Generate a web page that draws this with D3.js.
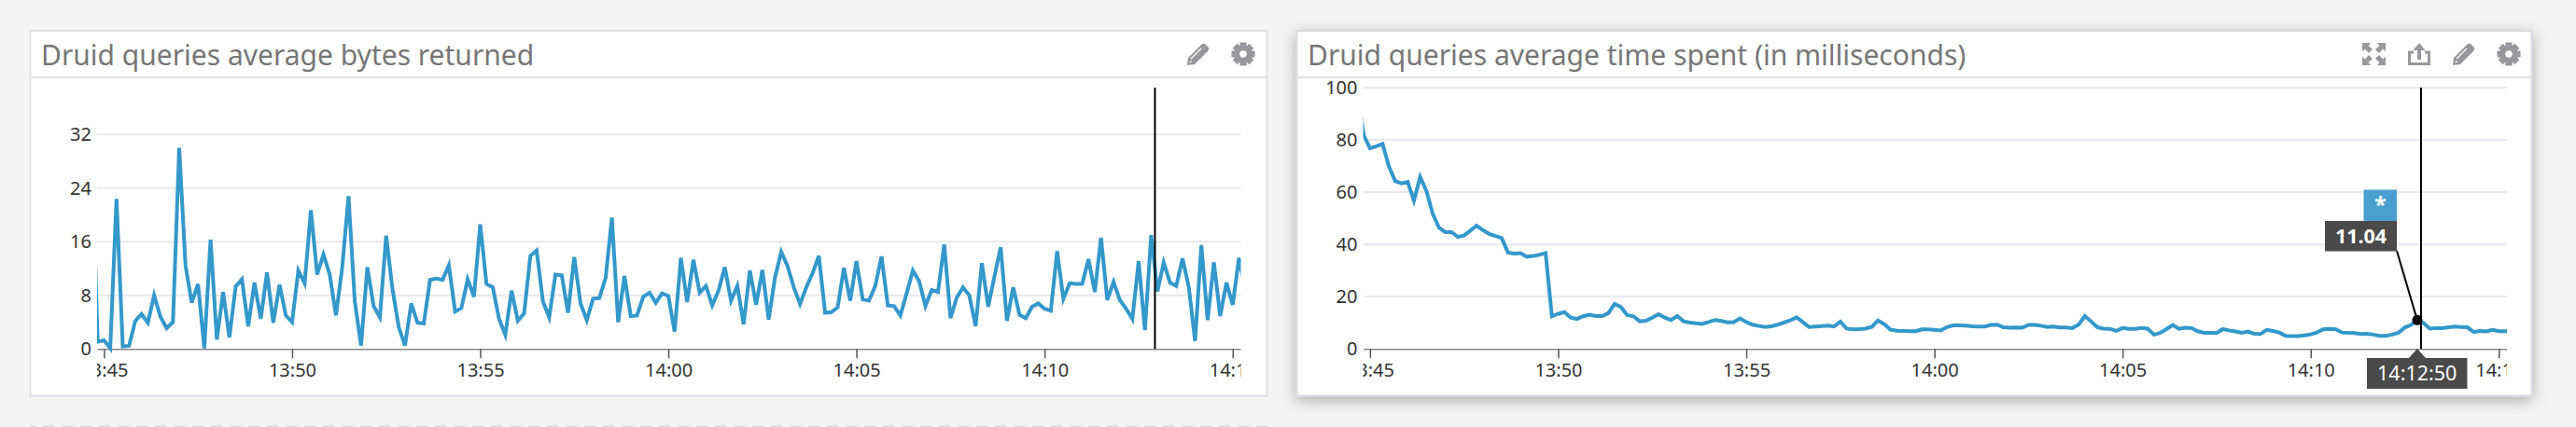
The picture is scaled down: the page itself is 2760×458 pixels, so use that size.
<!DOCTYPE html>
<html>
<head>
<meta charset="utf-8">
<script src="https://cdn.jsdelivr.net/npm/d3@7"></script>
<style>
  html, body { margin: 0; padding: 0; background: #f4f4f5; overflow: hidden; }
  text { font-family: "Noto Sans", sans-serif; }
</style>
</head>
<body>
<div id="chart"></div>
<script>
// one reading every 10 seconds, the first one is just off the left edge
var startTime = new Date(2017, 0, 1, 13, 44, 40);
var hoverTime = new Date(2017, 0, 1, 14, 12, 50);
var crosshairTime = new Date(2017, 0, 1, 14, 12, 56);

var bytesValues = [31, 1.07, 1.3, 0.1, 22.4, 0.37, 0.46, 4.2, 5.2, 3.9, 8.0, 4.8, 3.1, 4.0, 30.0, 12.5, 6.9, 9.7, 0.1, 16.3,
  1.4, 8.5, 1.7, 9.3, 10.4, 3.4, 9.9, 4.5, 11.4, 3.9, 9.6, 5.0, 4.0, 11.7, 9.8, 20.7, 11.1, 14.1, 11.1, 5.0,
  12.2, 22.8, 7.1, 0.5, 12.2, 6.4, 4.7, 16.9, 9.0, 3.3, 0.5, 6.8, 3.9, 3.8, 10.3, 10.5, 10.3, 12.5, 5.6, 6.1,
  10.4, 7.8, 18.6, 9.7, 9.2, 4.5, 2.1, 8.7, 4.2, 5.3, 13.9, 14.7, 7.1, 4.7, 11.1, 11.0, 5.4, 13.7, 6.8, 4.3,
  7.5, 7.6, 10.6, 19.6, 4.0, 10.9, 4.9, 5.0, 7.8, 8.4,
  6.9, 8.3, 7.9, 2.6, 13.6, 7.0, 13.3, 8.4, 9.4, 6.5, 8.7, 12.2, 7.2, 9.4, 3.7, 11.7, 6.6, 11.8, 4.4, 10.6,
  14.5, 12.4, 9.2, 6.7, 9.2, 11.3, 13.9, 5.4, 5.5, 6.2, 12.1, 7.2, 13.1, 7.4, 7.2, 9.4, 13.8, 6.5, 6.4, 5.0,
  8.3, 11.7, 10.1, 6.4, 8.8, 8.5, 15.6, 4.6, 7.7, 9.2, 8.0, 3.4, 12.8, 6.3, 10.8, 15.2, 4.2, 9.2, 5.1, 4.6,
  6.3, 6.8, 6.0, 5.7, 14.6, 7.5, 9.8, 9.7, 9.7, 13.4, 8.5, 16.6, 7.3, 10.0, 7.3, 6.0, 4.5, 13.1, 2.8, 17.0,
  8.6, 12.9, 9.9, 9.4, 13.5, 9.2, 1.2, 15.5, 4.3, 12.9, 4.9, 9.9, 6.6, 13.6, 9.0];

var timeSpentValues = [98, 81.8, 76.8, 77.6, 78.5, 69.9, 64.3, 63.4, 63.9, 56.8, 65.8, 60.4, 51.7, 46.4, 44.7, 44.7, 42.9, 43.4, 45.3, 47.2,
  45.5, 44.0, 43.2, 42.4, 36.9, 36.5, 36.7, 35.3, 35.6, 36.0, 36.7, 12.5, 13.4, 14.1, 12.0, 11.5, 12.5, 13.1, 12.6, 12.6,
  13.7, 17.2, 16.1, 13.0, 12.5, 10.6, 10.8, 12.0, 13.3, 12.0, 11.1, 12.6, 10.6, 10.1, 9.8, 9.6, 10.3, 11.1, 10.7, 10.2,
  10.3, 11.7, 10.3, 9.3, 8.8, 8.4, 8.7, 9.3, 10.1, 10.9, 12.1, 10.3, 8.4, 8.6, 8.8, 8.9, 8.6, 10.5, 7.8, 7.5,
  7.6, 7.8, 8.4, 10.9, 9.5, 7.4, 7.0, 6.9, 6.8, 6.8, 7.5, 7.5,
  7.3, 7.1, 8.4, 9.0, 9.0, 8.9, 8.7, 8.6, 8.6, 9.2, 9.3, 8.3, 8.1, 8.2, 8.1, 9.2, 9.2, 8.9, 8.4, 8.6,
  8.2, 8.2, 8.0, 9.3, 12.6, 10.5, 8.3, 7.8, 7.7, 6.9, 8.0, 7.7, 7.7, 8.0, 7.8, 5.5, 6.1, 7.6, 9.2, 7.7,
  8.1, 8.0, 6.8, 6.2, 6.2, 6.1, 7.6, 7.1, 6.7, 6.2, 6.7, 5.8, 5.7, 7.3, 6.9, 6.3, 5.0, 4.9, 4.9, 5.2,
  5.6, 6.3, 7.5, 7.7, 7.5, 6.3, 6.2, 6.1, 5.7, 5.8, 5.5, 5.0, 5.0, 5.5, 6.2, 8.2, 9.2, 11.04, 9.9, 7.8,
  8.0, 8.0, 8.3, 8.6, 8.4, 8.3, 6.5, 6.9, 6.7, 7.3, 6.8, 6.8, 6.8];

var bytesTicks = [0, 8, 16, 24, 32];
var timeSpentTicks = [0, 20, 40, 60, 80, 100];
var timeTicks = [[13, 45], [13, 50], [13, 55], [14, 0], [14, 5], [14, 10], [14, 15]]
  .map(function(t) { return new Date(2017, 0, 1, t[0], t[1]); });

var width = 2760,
  height = 458;

var lineColor = "#3498cb",
  gridColor = "#e9e9ed",
  borderColor = "#e0e0e6",
  iconColor = "#98989c";

var svg = d3.select("#chart").append("svg")
  .attr("width", width)
  .attr("height", height)
  .style("display", "block");

var defs = svg.append("defs");

var shadow = defs.append("filter")
  .attr("id", "panelShadow")
  .attr("x", "-5%").attr("y", "-20%")
  .attr("width", "110%").attr("height", "140%");
shadow.append("feDropShadow")
  .attr("dx", 0).attr("dy", 4)
  .attr("stdDeviation", 8)
  .attr("flood-color", "#000")
  .attr("flood-opacity", 0.3);

function gear(g, cx, cy) {
  var icon = g.append("g").attr("transform", "translate(" + cx + "," + cy + ")");
  icon.selectAll("rect").data(d3.range(8)).enter().append("rect")
    .attr("x", -3.5).attr("y", -12.5)
    .attr("width", 7).attr("height", 6)
    .attr("transform", function(d) { return "rotate(" + d * 45 + ")"; })
    .style("fill", iconColor);
  icon.append("circle")
    .attr("r", 6.8)
    .style("fill", "none")
    .style("stroke", iconColor)
    .style("stroke-width", 6);
}

function pencil(g, x, y) {
  var icon = g.append("g").attr("transform", "translate(" + x + "," + y + ")");
  icon.append("path")
    .attr("d", "M0 24 L1 16 L15 2 Q17 0 19 1 L23 5 Q24 7 22 9 L8 23 Z")
    .style("fill", iconColor);
  icon.append("path")
    .attr("d", "M4 17 L15 6 M3 21 L4.5 19.5")
    .style("stroke", "#fff")
    .style("stroke-width", 1.2);
}

function share(g, x, y) {
  var icon = g.append("g").attr("transform", "translate(" + x + "," + y + ")");
  icon.append("path")
    .attr("d", "M6 10 H1.5 V22.5 H22.5 V10 H18")
    .style("fill", "none")
    .style("stroke", iconColor)
    .style("stroke-width", 3);
  icon.append("path")
    .attr("d", "M12 0 L18.5 8 H14 V18 H10 V8 H5.5 Z")
    .style("fill", iconColor);
}

function expand(g, x, y) {
  var icon = g.append("g").attr("transform", "translate(" + x + "," + y + ")");
  icon.append("path")
    .attr("d", "M0 0 H9 L6.5 3 L11 7 L7 11 L3 6.5 L0 9 Z")
    .style("fill", iconColor);
  icon.append("path")
    .attr("d", "M25 0 H16 L18.5 3 L14 7 L18 11 L22 6.5 L25 9 Z")
    .style("fill", iconColor);
  icon.append("path")
    .attr("d", "M0 24 H9 L6.5 21 L11 17 L7 13 L3 17.5 L0 15 Z")
    .style("fill", iconColor);
  icon.append("path")
    .attr("d", "M25 24 H16 L18.5 21 L14 17 L18 13 L22 17.5 L25 15 Z")
    .style("fill", iconColor);
}

function drawPanel(opts) {
  var panel = svg.append("g");

  panel.append("rect")
    .attr("x", opts.x + 0.5).attr("y", 33)
    .attr("width", opts.w).attr("height", 391.5)
    .style("fill", "#fff")
    .style("stroke", opts.shadow ? "#d9d9de" : borderColor)
    .style("stroke-width", 2)
    .style("filter", opts.shadow ? "url(#panelShadow)" : null);

  panel.append("line")
    .attr("x1", opts.x).attr("x2", opts.x + opts.w)
    .attr("y1", 83).attr("y2", 83)
    .style("stroke", borderColor)
    .style("stroke-width", 2);

  panel.append("text")
    .text(opts.title)
    .attr("x", opts.x + 12)
    .attr("y", 70)
    .style("font-size", "30px")
    .style("fill", "#777");

  var x = d3.scaleTime()
    .domain([new Date(2017, 0, 1, 13, 44, 49), new Date(2017, 0, 1, 14, 15, 13)])
    .range([opts.plotLeft, opts.plotRight]);

  var y = d3.scaleLinear()
    .domain([0, opts.yMax])
    .range([374.3, 94]);

  var clipId = "clip" + opts.x;
  defs.append("clipPath").attr("id", clipId).append("rect")
    .attr("x", opts.plotLeft).attr("y", 85)
    .attr("width", opts.plotRight - opts.plotLeft)
    .attr("height", 340);

  panel.selectAll(".grid").data(opts.yTicks.filter(function(d) { return d > 0; })).enter().append("line")
    .attr("class", "grid")
    .attr("x1", opts.plotLeft).attr("x2", opts.plotRight)
    .attr("y1", function(d) { return y(d); })
    .attr("y2", function(d) { return y(d); })
    .style("stroke", gridColor)
    .style("stroke-width", 2);

  var yAxis = panel.append("g")
    .attr("transform", "translate(" + opts.plotLeft + ",0)")
    .call(d3.axisLeft(y).tickValues(opts.yTicks).tickSize(0).tickPadding(6));
  yAxis.select(".domain").remove();
  yAxis.selectAll("text")
    .style("font-size", "20px")
    .style("font-family", "'Noto Sans', sans-serif")
    .style("fill", "#333");

  var xAxis = panel.append("g")
    .attr("clip-path", "url(#" + clipId + ")")
    .append("g")
    .attr("transform", "translate(0,374.3)")
    .call(d3.axisBottom(x).tickValues(timeTicks).tickFormat(d3.timeFormat("%H:%M")).tickSize(10).tickPadding(5.5).tickSizeOuter(0));
  xAxis.select(".domain").style("stroke", "#888").style("stroke-width", 1.5);
  xAxis.selectAll(".tick line").style("stroke", "#555").style("stroke-width", 1.5);
  xAxis.selectAll("text")
    .style("font-size", "20px")
    .style("font-family", "'Noto Sans', sans-serif")
    .style("fill", "#333");

  var line = d3.line()
    .x(function(d, i) { return x(d3.timeSecond.offset(startTime, i * 10)); })
    .y(function(d) { return y(d); });

  panel.append("path")
    .datum(opts.values)
    .attr("d", line)
    .attr("clip-path", "url(#" + clipId + ")")
    .style("fill", "none")
    .style("stroke", lineColor)
    .style("stroke-width", 4)
    .style("stroke-linejoin", "miter");

  panel.append("line")
    .attr("x1", x(crosshairTime)).attr("x2", x(crosshairTime))
    .attr("y1", 94).attr("y2", 374.3)
    .style("stroke", "#000")
    .style("stroke-width", 2);

  opts.icons(panel);

  return { x: x, y: y, panel: panel };
}

drawPanel({
  x: 32, w: 1325,
  plotLeft: 104, plotRight: 1329.5,
  title: "Druid queries average bytes returned",
  values: bytesValues,
  yTicks: bytesTicks,
  yMax: 39,
  icons: function(g) {
    pencil(g, 1272, 46);
    gear(g, 1332, 58);
  }
});

var right = drawPanel({
  x: 1389, w: 1323,
  plotLeft: 1460.5, plotRight: 2686,
  title: "Druid queries average time spent (in milliseconds)",
  values: timeSpentValues,
  yTicks: timeSpentTicks,
  yMax: 100,
  shadow: true,
  icons: function(g) {
    expand(g, 2531, 46);
    share(g, 2580, 46);
    pencil(g, 2628, 46);
    gear(g, 2688, 58);
  }
});

// dashed edge of the next row under the left panel
svg.append("line")
  .attr("x1", 32).attr("x2", 1358)
  .attr("y1", 457).attr("y2", 457)
  .style("stroke", "#e2e2e6")
  .style("stroke-width", 2)
  .style("stroke-dasharray", "12,8")
  .style("stroke-dashoffset", 6);

// hover flags on the time spent panel
var hoverValue = timeSpentValues[d3.timeSecond.count(startTime, hoverTime) / 10];
var hx = right.x(hoverTime),
  hy = right.y(hoverValue);
var flags = right.panel.append("g");

flags.append("line")
  .attr("x1", 2568).attr("y1", 269)
  .attr("x2", hx).attr("y2", hy)
  .style("stroke", "#000")
  .style("stroke-width", 2);

flags.append("circle")
  .attr("cx", hx).attr("cy", hy)
  .attr("r", 5.5)
  .style("fill", "#000");

flags.append("rect")
  .attr("x", 2532.5).attr("y", 203.5)
  .attr("width", 35.5).attr("height", 33.5)
  .style("fill", "#4a9fd0");
flags.append("text")
  .text("*")
  .attr("x", 2550.5).attr("y", 228)
  .attr("text-anchor", "middle")
  .style("font-size", "23px")
  .style("font-weight", "bold")
  .style("fill", "#fff");

flags.append("rect")
  .attr("x", 2491).attr("y", 237)
  .attr("width", 77).attr("height", 32.5)
  .style("fill", "#4a4a4a");
flags.append("text")
  .text(hoverValue.toFixed(2))
  .attr("x", 2529.5).attr("y", 261)
  .attr("text-anchor", "middle")
  .style("font-size", "21.5px")
  .style("font-weight", "bold")
  .style("fill", "#fff");

flags.append("path")
  .attr("d", "M" + (hx - 9) + " 384 L" + hx + " 374 L" + (hx + 9) + " 384 Z")
  .style("fill", "#4a4a4a");
flags.append("rect")
  .attr("x", 2536).attr("y", 384)
  .attr("width", 107.5).attr("height", 33)
  .style("fill", "#4a4a4a");
flags.append("text")
  .text(d3.timeFormat("%H:%M:%S")(hoverTime))
  .attr("x", 2589.7).attr("y", 408)
  .attr("text-anchor", "middle")
  .style("font-size", "21.5px")
  .style("fill", "#fff");
</script>
</body>
</html>
